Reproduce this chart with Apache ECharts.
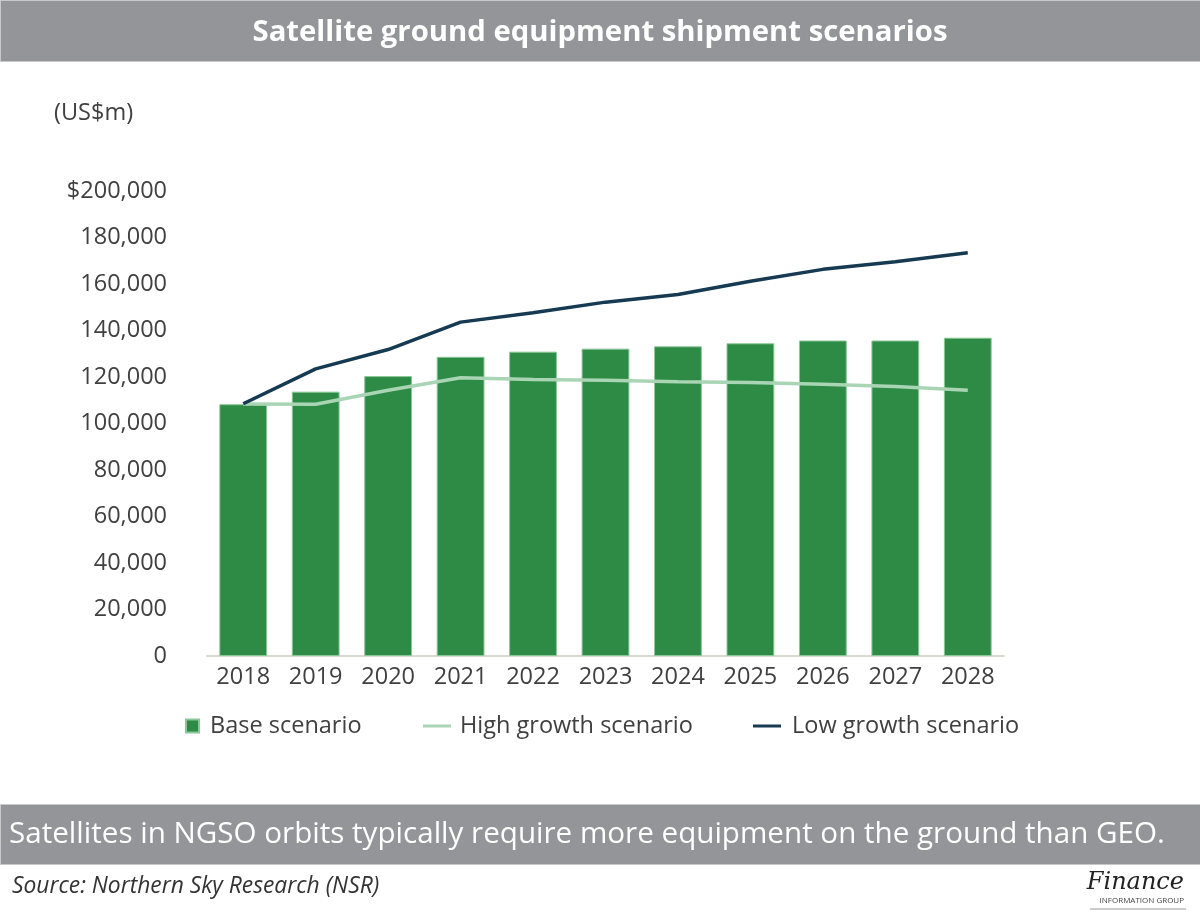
<!DOCTYPE html>
<html>
<head>
<meta charset="utf-8">
<script src="https://cdn.jsdelivr.net/npm/echarts@6/dist/echarts.min.js"></script>
<style>
	html, body { margin: 0; padding: 0; background: #fff; }
	#chart { width: 1200px; height: 913px; }
</style>
</head>
<body>
<div id="chart"></div>
<script>
var years = [ '2018', '2019', '2020', '2021', '2022', '2023', '2024', '2025', '2026', '2027', '2028' ];
var baseScenario = [ 108300, 113700, 120400, 128700, 130900, 132200, 133200, 134500, 135700, 135700, 136900 ];
var highGrowth = [ 108400, 108300, 114300, 119700, 118900, 118600, 118000, 117600, 116900, 115900, 114300 ];
var lowGrowth = [ 108500, 123500, 131800, 143600, 147600, 152200, 155500, 161200, 166300, 169600, 173400 ];
var yTicks = [ 0, 20000, 40000, 60000, 80000, 100000, 120000, 140000, 160000, 180000, 200000 ];

var font = '"Open Sans", "Noto Sans", sans-serif';
var lineIcon = 'path://M0,6 L28,6 L28,9 L0,9 Z';

$chart = echarts.init(document.getElementById('chart'));

// one legend per item so each icon can keep its own size
function legendAt(left, name, icon, w, h, pad) {
	return {
		left : left,
		top : 709,
		itemWidth : w,
		itemHeight : h,
		icon : icon,
		textStyle : {
			fontFamily : font,
			fontSize : 23.5,
			color : '#404040',
			padding : [ 0, 0, 0, pad ]
		},
		data : [ name ]
	};
}

var option = {
	animation : false,
	backgroundColor : '#ffffff',
	textStyle : {
		fontFamily : font
	},
	grid : {
		left : 207,
		right : 196,
		top : 191,
		bottom : 257,
		containLabel : false
	},
	legend : [
		legendAt(180, 'Base scenario', 'rect', 13, 13, 6),
		legendAt(418, 'High growth scenario', lineIcon, 28, 14, 4),
		legendAt(748, 'Low growth scenario', lineIcon, 28, 14, 6)
	],
	xAxis : {
		type : 'category',
		data : years,
		axisLine : {
			lineStyle : { color : '#d9d9d0', width : 2 }
		},
		axisTick : { show : false },
		axisLabel : {
			fontFamily : font,
			fontSize : 23.5,
			color : '#404040',
			margin : 9
		}
	},
	yAxis : {
		type : 'value',
		min : 0,
		max : 200000,
		interval : 20000,
		splitLine : { show : false },
		axisLine : { show : false },
		axisTick : { show : false },
		axisLabel : {
			fontFamily : font,
			fontSize : 23.5,
			color : '#404040',
			margin : 40,
			formatter : function(v) {
				if (yTicks.indexOf(v) < 0) return '';
				var s = v.toLocaleString('en-US');
				return v === 200000 ? '$' + s : s;
			}
		}
	},
	series : [ {
		name : 'Base scenario',
		type : 'bar',
		data : baseScenario,
		barCategoryGap : '34%',
		color : '#2e8b45',
		itemStyle : {
			color : '#2e8b45',
			borderColor : '#8cc79a',
			borderWidth : 1
		}
	}, {
		name : 'High growth scenario',
		type : 'line',
		data : highGrowth,
		symbol : 'none',
		color : '#a9d5b4',
		lineStyle : { color : '#a9d5b4', width : 3.5 }
	}, {
		name : 'Low growth scenario',
		type : 'line',
		data : lowGrowth,
		symbol : 'none',
		color : '#153a52',
		lineStyle : { color : '#153a52', width : 3.5 }
	} ],
	graphic : [ {
		type : 'rect',
		left : 0,
		top : 0,
		shape : { width : 1200, height : 61 },
		style : { fill : '#939598', stroke : '#c8c8ca', lineWidth : 1 }
	}, {
		type : 'text',
		left : 'center',
		top : 18,
		style : {
			text : 'Satellite ground equipment shipment scenarios',
			fill : '#ffffff',
			font : 'bold 29.3px ' + font
		}
	}, {
		type : 'text',
		left : 54,
		top : 101,
		style : {
			text : '(US$m)',
			fill : '#404040',
			font : '23.5px ' + font
		}
	}, {
		type : 'rect',
		left : 0,
		top : 804,
		shape : { width : 1200, height : 60 },
		style : { fill : '#939598', stroke : '#c8c8ca', lineWidth : 1 }
	}, {
		type : 'text',
		left : 9,
		top : 820,
		style : {
			text : 'Satellites in NGSO orbits typically require more equipment on the ground than GEO.',
			fill : '#ffffff',
			font : '29.6px ' + font
		}
	}, {
		type : 'text',
		left : 12,
		top : 875,
		style : {
			text : 'Source: Northern Sky Research (NSR)',
			fill : '#333333',
			font : 'italic 22.8px ' + font
		}
	}, {
		type : 'text',
		right : 16,
		top : 871,
		style : {
			text : 'Finance',
			fill : '#222222',
			font : 'italic 24px "DejaVu Serif", serif'
		}
	}, {
		type : 'text',
		right : 16,
		top : 897,
		style : {
			text : 'INFORMATION GROUP',
			fill : '#444444',
			font : '8px ' + font
		}
	}, {
		type : 'line',
		shape : { x1 : 1090, y1 : 909, x2 : 1186, y2 : 909 },
		style : { stroke : '#999999', lineWidth : 1 }
	} ]
};
$chart.setOption(option);
</script>
</body>
</html>
